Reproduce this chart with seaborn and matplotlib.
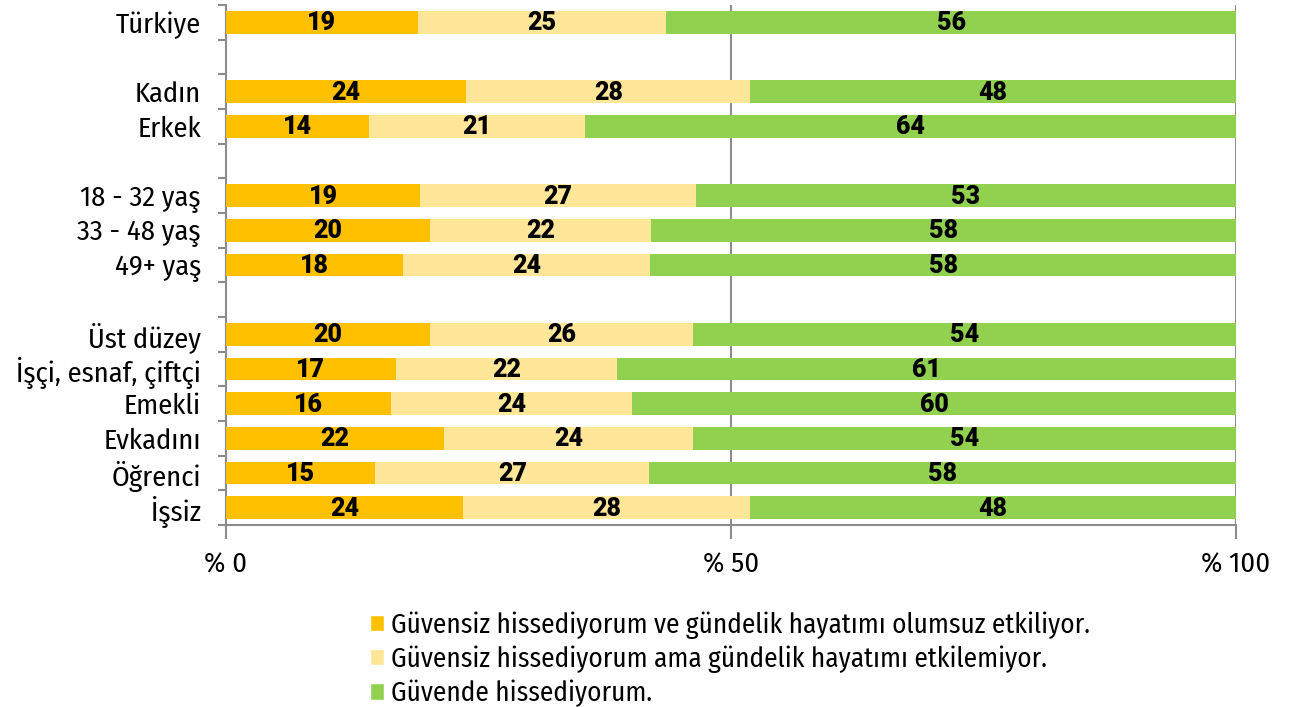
import pandas as pd
import numpy as np
import matplotlib
matplotlib.use('Agg')
import matplotlib.pyplot as plt
import seaborn as sns
from matplotlib.patches import Patch

# ── data ─────────────────────────────────────────────
# blank strings are the spacer rows between groups
groups = ['Türkiye', ' ', 'Kadın', 'Erkek', '  ',
          '18 - 32 yaş', '33 - 48 yaş', '49+ yaş', '   ',
          'Üst düzey', 'İşçi, esnaf, çiftçi', 'Emekli', 'Evkadını', 'Öğrenci', 'İşsiz']

categories = ['Türkiye', 'Kadın', 'Erkek',
              '18 - 32 yaş', '33 - 48 yaş', '49+ yaş',
              'Üst düzey', 'İşçi, esnaf, çiftçi', 'Emekli', 'Evkadını', 'Öğrenci', 'İşsiz']

# bar widths
unsafe_affects = [19.0, 23.8, 14.2, 19.2, 20.2, 17.5, 20.2, 16.8, 16.3, 21.6, 14.8, 23.5]
unsafe_no_effect = [24.6, 28.1, 21.3, 27.3, 21.9, 24.5, 26.0, 21.9, 23.9, 24.6, 27.1, 28.4]
safe = [56.4, 48.1, 64.5, 53.5, 57.9, 58.0, 53.8, 61.3, 59.8, 53.8, 58.1, 48.1]

# printed labels
lbl_unsafe_affects = [19, 24, 14, 19, 20, 18, 20, 17, 16, 22, 15, 24]
lbl_unsafe_no_effect = [25, 28, 21, 27, 22, 24, 26, 22, 24, 24, 27, 28]
lbl_safe = [56, 48, 64, 53, 58, 58, 54, 61, 60, 54, 58, 48]

series_names = ['Güvensiz hissediyorum ve gündelik hayatımı olumsuz etkiliyor.',
                'Güvensiz hissediyorum ama gündelik hayatımı etkilemiyor.',
                'Güvende hissediyorum.']
colors = ['#FFC000', '#FFE699', '#92D050']

FONT = ['Fira Sans Condensed', 'DejaVu Sans']
NUM_FONT = ['Roboto', 'DejaVu Sans']
GREY = '#8c8c8c'

df = pd.DataFrame({'group': categories,
                   's1': unsafe_affects, 's2': unsafe_no_effect, 's3': safe})
df['c1'] = df['s1']
df['c2'] = df['s1'] + df['s2']
df['c3'] = df['c2'] + df['s3']

sns.set_style('white')
plt.rcParams['font.family'] = FONT
plt.rcParams['text.color'] = 'black'
plt.rcParams['xtick.color'] = 'black'
plt.rcParams['ytick.color'] = 'black'

fig = plt.figure(figsize=(12.95, 7.07), dpi=100)
ax = fig.add_axes([0.1745, 0.2574, 0.7800, 0.7356])

# stacked look: draw cumulative totals, widest first
for col, c in zip(['c3', 'c2', 'c1'], colors[::-1]):
    sns.barplot(data=df, y='group', x=col, order=groups, orient='h',
                color=c, saturation=1, width=0.66, errorbar=None, ax=ax,
                edgecolor='none', zorder=3)

# segment labels
for i, g in enumerate(categories):
    y = groups.index(g)
    starts = [0, df['c1'][i], df['c2'][i]]
    widths = [df['s1'][i], df['s2'][i], df['s3'][i]]
    labels = [lbl_unsafe_affects[i], lbl_unsafe_no_effect[i], lbl_safe[i]]
    for s, w, t in zip(starts, widths, labels):
        ax.text(s + w / 2, y + 0.03, str(t), ha='center', va='center',
                fontsize=18, fontweight=900, family=NUM_FONT,
                color='black', zorder=5)

ax.set_xlim(0, 100)
ax.set_ylim(len(groups) - 0.5, -0.5)
ax.set_xlabel('')
ax.set_ylabel('')

# gridlines at 50 and 100
for xv in [50, 100]:
    ax.axvline(xv, color=GREY, lw=1.5, zorder=1)

ax.set_xticks([0, 50, 100])
ax.set_xticklabels(['% 0', '% 50', '% 100'], fontsize=20.5)
ax.tick_params(axis='x', bottom=True, length=10, width=1.5, color=GREY,
               pad=9, direction='out')

# y ticks: labels at centres, tick marks between rows
ax.set_yticks(range(len(groups)))
ax.set_yticklabels(groups, fontsize=20.5)
ax.tick_params(axis='y', which='major', left=True, length=0, pad=18)
ax.set_yticks(np.arange(-0.5, len(groups), 1.0), minor=True)
ax.tick_params(axis='y', which='minor', left=True, length=6, width=1.5,
               color=GREY, direction='out')

for side in ['top', 'right']:
    ax.spines[side].set_visible(False)
for side in ['left', 'bottom']:
    ax.spines[side].set_color(GREY)
    ax.spines[side].set_linewidth(1.5)

handles = [Patch(facecolor=c, label=n) for c, n in zip(colors, series_names)]
fig.legend(handles=handles, loc='upper left', bbox_to_anchor=(0.277, 0.151),
           frameon=False, fontsize=19.5, handlelength=0.55, handleheight=0.55,
           handletextpad=0.25, labelspacing=0.25, borderaxespad=0)

fig.savefig('out.png', dpi=100)
